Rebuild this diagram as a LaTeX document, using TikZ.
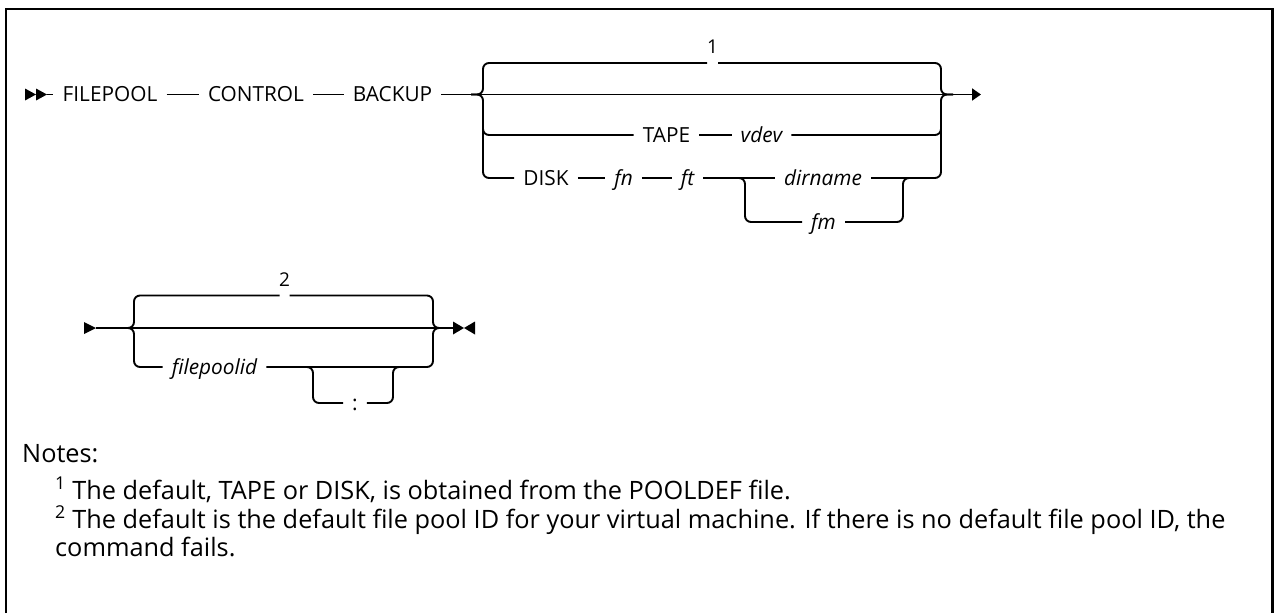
\documentclass[tikz,border=0pt]{standalone}
\usepackage{fontspec}
\setmainfont{Open Sans}
\usetikzlibrary{arrows.meta}
\tikzset{
  rail/.style={line width=1.9pt, rounded corners=6pt},
  kw/.style={font=\fontsize{20.8}{24}\selectfont, inner xsep=9pt, inner ysep=0pt, text height=14.8pt, text depth=0pt},
  var/.style={kw, font=\fontsize{20.8}{24}\selectfont\itshape},
  lbl/.style={font=\fontsize{19}{22}\selectfont, anchor=base, inner sep=0pt},
  note/.style={font=\fontsize{25.3}{28}\selectfont, anchor=base west, inner sep=0pt},
}
\begin{document}
\begin{tikzpicture}[x=1pt,y=-1pt]
\useasboundingbox (0,0) rectangle (1274,613);
% frame
\draw[line width=2.5pt] (6,613) -- (6,9) -- (1272.5,9) -- (1272.5,613);

% ---------- first diagram ----------
\fill (25,88.5) -- (36,94.5) -- (25,100.5) -- cycle;
\fill (36,88.5) -- (47,94.5) -- (36,100.5) -- cycle;
\coordinate (s1) at (47,94.5);
\node[kw] (filepool) at (110,94.5) {FILEPOOL};
\node[kw] (control) at (256,94.5) {CONTROL};
\node[kw] (backup) at (392.5,94.5) {BACKUP};
\coordinate (e1) at (981,94.5);
\draw[rail] (s1) -- (filepool.west);
\draw[rail] (filepool.east) -- (control.west);
\draw[rail] (control.east) -- (backup.west);
\draw[line width=1.9pt, -{Triangle[length=9pt,width=12pt]}] (backup.east) -- (e1);

\coordinate (lb1) at (471,94.5);
\coordinate (rb1) at (953,94.5);
\node[lbl] (one) at (712.5,53) {1};
\draw[rail] (lb1) -| (483,63) -- (707,63);
\draw[rail] (718,63) -| (941,94.5) -- (rb1);

\node[kw] (tape) at (666.5,135) {TAPE};
\node[var] (vdev) at (761.5,135) {vdev};
\draw[rail] (483,120) |- (tape.west);
\draw[rail] (tape.east) -- (vdev.west);
\draw[rail] (vdev.east) -| (941,120);

\node[kw] (disk) at (546,178) {DISK};
\node[var] (fn) at (623.5,178) {fn};
\node[var] (ft) at (687.5,178) {ft};
\node[var] (dirname) at (823,178) {dirname};
\node[var] (fm) at (823.5,222) {fm};
\draw[rail] (lb1) -| (483,178) -- (disk.west);
\draw[rail] (disk.east) -- (fn.west);
\draw[rail] (fn.east) -- (ft.west);
\draw[rail] (ft.east) -- (dirname.west);
\draw[rail] (dirname.east) -| (941,94.5) -- (rb1);
\draw[rail] (733,178) -| (745,222) -- (fm.west);
\draw[rail] (fm.east) -| (903,178) -- (915,178);

% ---------- second diagram ----------
\fill (84,322) -- (96,328) -- (84,334) -- cycle;
\coordinate (s2) at (96,328);
\coordinate (e2) at (453,328);
\draw[rail] (s2) -- (e2);
\fill (453,321.5) -- (464,328) -- (453,334.5) -- cycle;
\fill (475,321.5) -- (464,328) -- (475,334.5) -- cycle;

\coordinate (lb2) at (122,328);
\coordinate (rb2) at (445,328);
\node[lbl] (two) at (284.5,286) {2};
\draw[rail] (lb2) -| (134,295.5) -- (279.5,295.5);
\draw[rail] (289.5,295.5) -| (433,328) -- (rb2);

\node[var] (fpid) at (214.5,367) {filepoolid};
\node[kw] (colon) at (355,403) {:};
\draw[rail] (lb2) -| (134,367) -- (fpid.west);
\draw[rail] (fpid.east) -| (433,328) -- (rb2);
\draw[rail] (301,367) -| (313,403) -- (colon.west);
\draw[rail] (colon.east) -| (393,367) -- (405,367);

% ---------- notes ----------
\node[note] (notes) at (22,462) {Notes:};
\node[note] (n1) at (55,499) {\textsuperscript{1} The default, TAPE or DISK, is obtained from the POOLDEF file.};
\node[note] (n2) at (55,528) {\textsuperscript{2} The default is the default file pool ID for your virtual machine. If there is no default file pool ID, the};
\node[note] (n3) at (55,556) {command fails.};
\end{tikzpicture}
\end{document}
